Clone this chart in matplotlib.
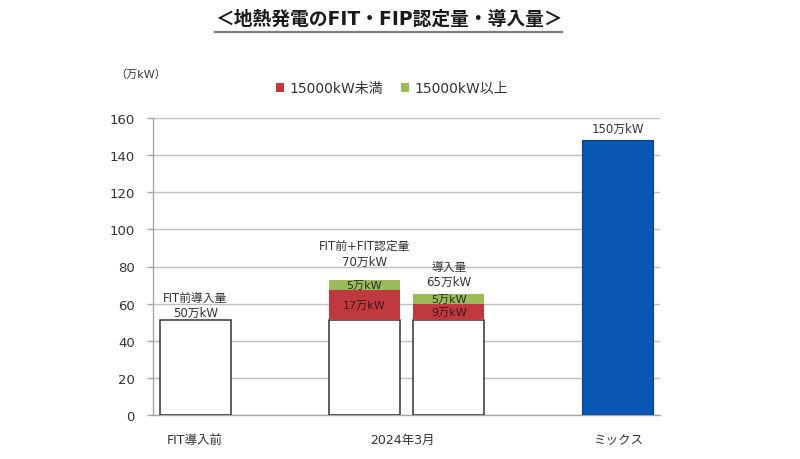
import matplotlib
matplotlib.use("Agg")
import matplotlib.pyplot as plt
from matplotlib.lines import Line2D
from matplotlib.patches import Patch

plt.rcParams['font.family'] = ['DejaVu Sans', 'Noto Sans CJK JP']

# ---- data ----
positions = [0.5, 2.5, 3.5, 5.5]
base_values = [51, 51, 51, 0]          # FIT前導入量 (white)
small_values = [0, 16.5, 9, 0]         # 15000kW未満 (red)
large_values = [0, 5, 5, 0]            # 15000kW以上 (green)
mix_values = [0, 0, 0, 148]            # ミックス (blue)
small_labels = ["", "17万kW", "9万kW", ""]
large_labels = ["", "5万kW", "5万kW", ""]
top_labels = [["FIT前導入量", "50万kW"], ["FIT前+FIT認定量", "70万kW"],
              ["導入量", "65万kW"], ["150万kW"]]
top_offsets = [[16.5, 5.8], [25, 13.5], [20, 9.5], [8.5]]  # points above bar top
cat_positions = [0.5, 2.95, 5.5]
cat_labels = ["FIT導入前", "2024年3月", "ミックス"]
yticks = [0, 20, 40, 60, 80, 100, 120, 140, 160]
legend_names = ["15000kW未満", "15000kW以上"]

RED = "#C0393F"
GREEN = "#9BBB59"
BLUE = "#0B58B4"
TXT = "#333333"

fig = plt.figure(figsize=(8, 4.6), dpi=100)
W, H = 800, 460
ax = fig.add_axes([153 / W, 1 - 416 / H, (660 - 153) / W, (416 - 119) / H])

width = 0.84
ax.bar(positions, base_values, width=width, color="white", edgecolor="#333333",
       linewidth=1.1, zorder=3)
bottom2 = [b for b in base_values]
ax.bar(positions, small_values, width=width, bottom=bottom2, color=RED,
       edgecolor="none", zorder=3)
bottom3 = [b + s for b, s in zip(base_values, small_values)]
ax.bar(positions, large_values, width=width, bottom=bottom3, color=GREEN,
       edgecolor="none", zorder=3)
ax.bar(positions, mix_values, width=width, color=BLUE, edgecolor="#0A3F86",
       linewidth=0.8, zorder=3)

# inside labels
for x, b, s, l, sl, ll in zip(positions, base_values, small_values, large_values,
                              small_labels, large_labels):
    if sl:
        ax.text(x, b + s / 2, sl, ha="center", va="center", fontsize=8,
                color="#3a1a1a", zorder=4)
    if ll:
        ax.text(x, b + s + l / 2, ll, ha="center", va="center", fontsize=8,
                color="#2a2a2a", zorder=4)

# top labels
for x, b, s, l, m, labs, offs in zip(positions, base_values, small_values,
                                     large_values, mix_values, top_labels, top_offsets):
    top = b + s + l + m
    for t, o in zip(labs, offs):
        ax.annotate(t, xy=(x, top), xytext=(0, o), textcoords="offset points",
                    ha="center", va="center", fontsize=8.5, color=TXT)

ax.set_xlim(0, 6)
ax.set_ylim(0, 160)
ax.set_yticks(yticks)
ax.set_yticklabels([str(v) for v in yticks], fontsize=9.5, color=TXT)
ax.set_xticks(cat_positions)
ax.set_xticklabels(cat_labels, fontsize=9, color=TXT)
ax.tick_params(axis="x", length=0, pad=13)
ax.tick_params(axis="y", length=4, color="#A6A6A6", width=1, pad=9)
ax.grid(axis="y", color="#BFBFBF", linewidth=1.0, zorder=0)
ax.set_axisbelow(True)
for side in ["top", "right"]:
    ax.spines[side].set_visible(False)
for side in ["left", "bottom"]:
    ax.spines[side].set_color("#A6A6A6")
    ax.spines[side].set_linewidth(1.0)

# unit label
fig.text(141 / W, 1 - 75 / H, "（万kW）", ha="center", va="center", fontsize=8,
         color=TXT)

# legend
handles = [Patch(facecolor=RED, edgecolor="none"), Patch(facecolor=GREEN, edgecolor="none")]
fig.legend(handles, legend_names, loc="center", bbox_to_anchor=(392 / W, 1 - 89 / H),
           ncol=2, frameon=False, fontsize=10, handlelength=0.6, handleheight=0.6,
           handletextpad=0.4, columnspacing=1.3, labelcolor=TXT)

# title
fig.text(389 / W, 1 - 19 / H, "＜地熱発電のFIT・FIP認定量・導入量＞", ha="center",
         va="center", fontsize=13.5, fontweight="bold", color="#1a1a1a")
fig.add_artist(Line2D([215 / W, 562 / W], [1 - 33 / H, 1 - 33 / H], color="#7F7F7F",
                      linewidth=1.6, transform=fig.transFigure))

fig.savefig("out.png", dpi=100)
